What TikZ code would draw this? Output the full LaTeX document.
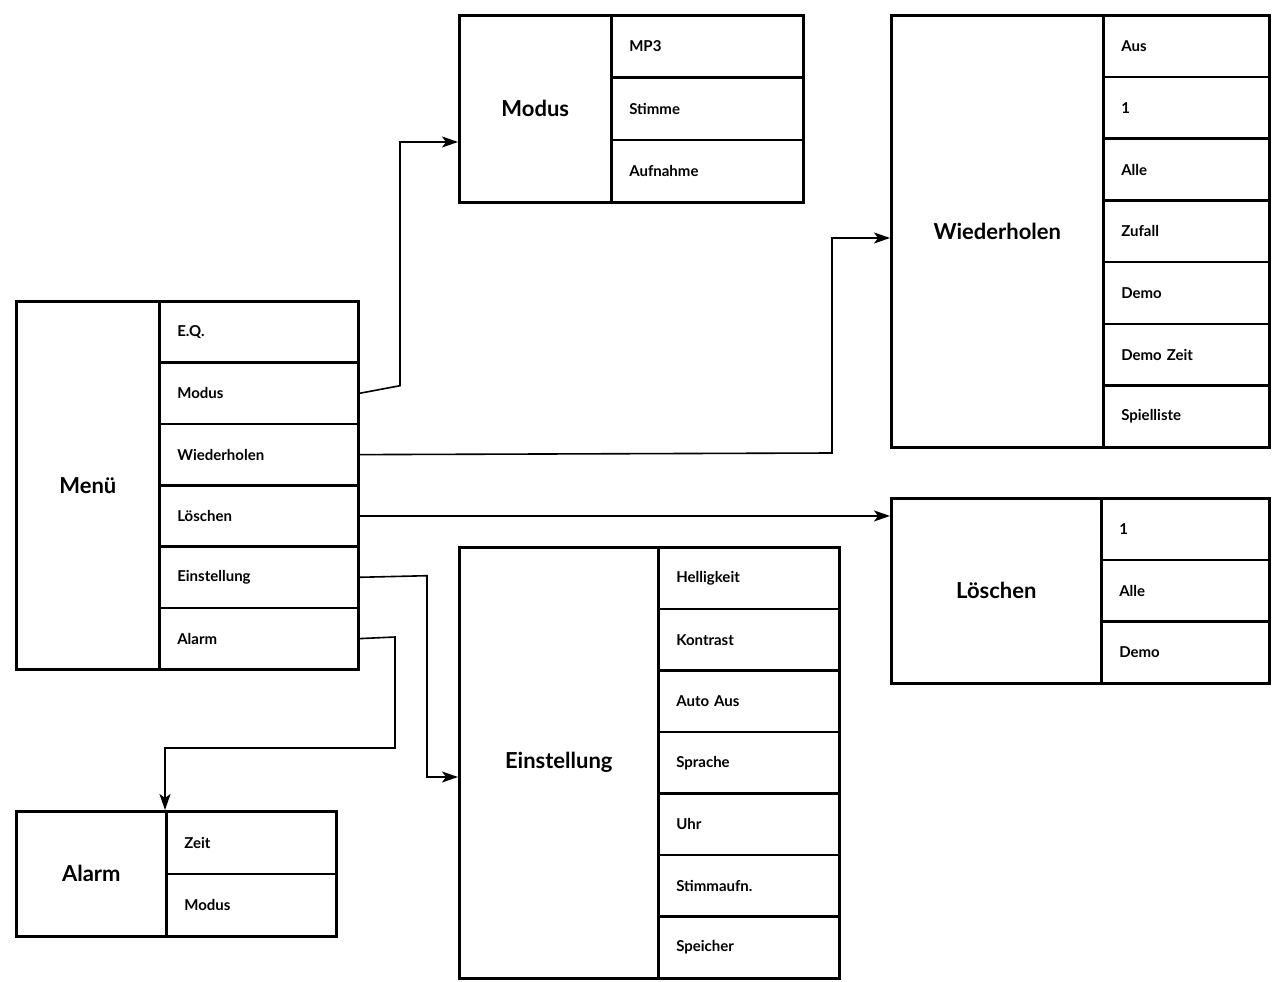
\documentclass[tikz,border=0pt]{standalone}
\usepackage{fontspec}
\setmainfont{Lato}
\usetikzlibrary{arrows.meta}
\begin{document}
\begin{tikzpicture}[x=1pt,y=-1pt,
  box/.style={draw,line width=2.6pt,inner sep=0pt,anchor=north west},
  cell/.style={box,inner xsep=18pt,align=left,font=\bfseries\fontsize{15}{18}\selectfont},
  title/.style={box,align=center,font=\bfseries\fontsize{22}{26}\selectfont},
  arr/.style={line width=1.6pt,-{Stealth[length=16pt,width=11pt,inset=4pt]}}]
\useasboundingbox (0,0) rectangle (1282,982);
% Menu
\node[title,minimum width=143pt,minimum height=368pt] (menu) at (15,300) {Menü};
\foreach \t [count=\i] in {E.Q.,Modus,Wiederholen,Löschen,Einstellung,Alarm}
  \node[cell,text width=163pt,minimum height=61.33pt] (menu\i) at (158,{300+61.33*(\i-1)}) {\t};
% Modus
\node[title,minimum width=152pt,minimum height=187pt] (mod) at (458,14) {Modus};
\foreach \t [count=\i] in {MP3,Stimme,Aufnahme}
  \node[cell,text width=156pt,minimum height=62.33pt] (mod\i) at (610,{14+62.33*(\i-1)}) {\t};
% Wiederholen
\node[title,minimum width=212pt,minimum height=432pt] (wie) at (890,14) {Wiederholen};
\foreach \t [count=\i] in {Aus,1,Alle,Zufall,Demo,Demo Zeit,Spielliste}
  \node[cell,text width=130pt,minimum height=61.71pt] (wie\i) at (1102,{14+61.71*(\i-1)}) {\t};
% Loeschen
\node[title,minimum width=210pt,minimum height=185pt] (loe) at (890,497) {Löschen};
\foreach \t [count=\i] in {1,Alle,Demo}
  \node[cell,text width=132pt,minimum height=61.67pt] (loe\i) at (1100,{497+61.67*(\i-1)}) {\t};
% Einstellung
\node[title,minimum width=199pt,minimum height=431pt] (ein) at (458,546) {Einstellung};
\foreach \t [count=\i] in {Helligkeit,Kontrast,Auto Aus,Sprache,Uhr,Stimmaufn.,Speicher}
  \node[cell,text width=145pt,minimum height=61.57pt] (ein\i) at (657,{546+61.57*(\i-1)}) {\t};
% Alarm
\node[title,minimum width=150pt,minimum height=125pt] (ala) at (15,810) {Alarm};
\foreach \t [count=\i] in {Zeit,Modus}
  \node[cell,text width=134pt,minimum height=62.5pt] (ala\i) at (165,{810+62.5*(\i-1)}) {\t};
% connectors
\coordinate (modin) at (458,142);
\coordinate (wiein) at (890,238);
\coordinate (einin) at (458,777);
\coordinate (alain) at (165,810);
\draw[arr] (menu2.east) -- (400,385.7) |- (modin);
\draw[arr] (menu3.east) -- (832,453) |- (wiein);
\draw[arr] (menu4.east) -- (loe.west |- menu4.east);
\draw[arr] (menu5.east) -- (427,575.7) |- (einin);
\draw[arr] (menu6.east) -- (395,637) -- (395,748) -| (alain);
\end{tikzpicture}
\end{document}
